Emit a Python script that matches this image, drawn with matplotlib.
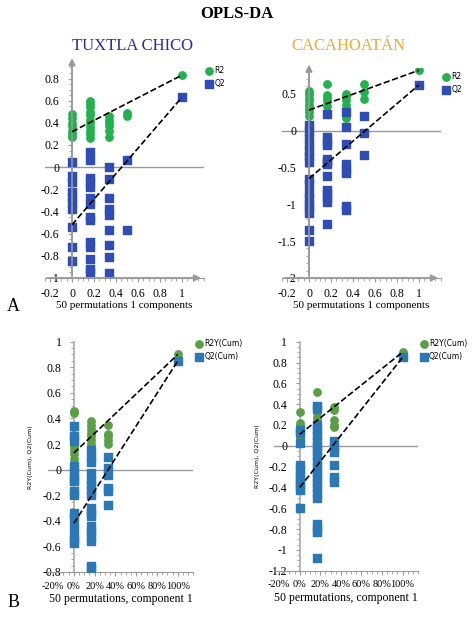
import matplotlib
matplotlib.use("Agg")
import matplotlib.pyplot as plt

plt.rcParams["font.family"] = ["Liberation Serif", "DejaVu Serif"]

# --- A: TUXTLA CHICO ---
tc_r2 = {0: [0.27, 0.30, 0.33, 0.37, 0.40, 0.44, 0.48],
         0.167: [0.26, 0.30, 0.33, 0.36, 0.40, 0.43, 0.47, 0.50, 0.54, 0.57, 0.60],
         0.333: [0.27, 0.33, 0.37, 0.40, 0.43, 0.46],
         0.5: [0.46, 0.49], 1: [0.83]}
tc_q2 = {0: [0.05, -0.08, -0.13, -0.22, -0.27, -0.32, -0.38, -0.54, -0.72, -0.85],
         0.167: [0.14, 0.06, -0.10, -0.13, -0.18, -0.28, -0.33, -0.45, -0.48, -0.68, -0.72, -0.83, -0.92, -0.95],
         0.333: [0.0, -0.11, -0.28, -0.38, -0.43, -0.57, -0.70, -0.81, -0.96],
         0.5: [0.06, -0.57], 1: [0.63]}
tc_lines = [(0.32, 0.83), (-0.52, 0.63)]

# --- A: CACAHOATAN ---
ca_r2 = {0: [0.20, 0.25, 0.30, 0.35, 0.40, 0.45, 0.50, 0.54],
         0.167: [0.33, 0.40, 0.45, 0.48, 0.63],
         0.333: [0.17, 0.35, 0.42, 0.47, 0.50],
         0.5: [0.43, 0.52, 0.63], 1: [0.82]}
ca_q2 = {0: [0.08, 0.0, -0.10, -0.20, -0.28, -0.35, -0.42, -0.65, -0.72, -0.85, -0.92, -1.0, -1.05, -1.12, -1.35, -1.50],
         0.167: [0.22, -0.08, -0.15, -0.20, -0.38, -0.42, -0.45, -0.62, -0.80, -0.85, -0.92, -0.97, -1.27],
         0.333: [0.25, 0.05, -0.18, -0.45, -0.52, -0.57, -1.02, -1.08],
         0.5: [0.20, -0.03, -0.33], 1: [0.62]}
ca_lines = [(0.28, 0.82), (-0.65, 0.62)]

# --- B: left ---
bl_r2 = {0: [0.08, 0.12, 0.15, 0.18, 0.20, 0.24, 0.27, 0.44, 0.46],
         0.167: [0.10, 0.14, 0.18, 0.20, 0.23, 0.26, 0.29, 0.32, 0.35, 0.38],
         0.333: [0.20, 0.23, 0.26, 0.28, 0.35], 1: [0.90]}
bl_q2 = {0: [0.34, 0.26, 0.22, 0.03, -0.03, -0.07, -0.09, -0.17, -0.20, -0.34, -0.38, -0.45, -0.52, -0.55, -0.57],
         0.167: [0.15, 0.10, 0.06, -0.03, -0.08, -0.12, -0.16, -0.20, -0.30, -0.34, -0.36, -0.44, -0.48, -0.52, -0.56, -0.75, -0.77],
         0.333: [0.10, 0.01, -0.04, -0.14, -0.17, -0.28], 1: [0.85]}
bl_lines = [(0.13, 0.90), (-0.42, 0.85)]

# --- B: right ---
br_r2 = {0: [0.08, 0.10, 0.20, 0.22, 0.32],
         0.167: [0.10, 0.15, 0.20, 0.25, 0.28, 0.32, 0.36, 0.38, 0.52],
         0.333: [0.18, 0.20, 0.25, 0.34, 0.37], 1: [0.90]}
br_q2 = {0: [0.15, 0.12, 0.03, -0.18, -0.22, -0.28, -0.32, -0.36, -0.40, -0.42, -0.60],
         0.167: [0.38, 0.35, 0.20, 0.15, 0.10, 0.05, 0.0, -0.05, -0.10, -0.15, -0.20, -0.25, -0.30,
                 -0.35, -0.40, -0.45, -0.50, -0.75, -0.80, -0.83, -1.08],
         0.333: [0.05, -0.02, -0.06, -0.18, -0.30, -0.35], 1: [0.85]}
br_lines = [(0.11, 0.90), (-0.40, 0.85)]


def flat(d):
    xs, ys = [], []
    for k, v in d.items():
        xs += [k] * len(v)
        ys += v
    return xs, ys


def panel(rect, r2, q2, lines, ylim, yticks, cols, labels, pct, arrows):
    ax = fig.add_axes(rect)
    ax.set_xlim(-0.25, 1.2 if not pct else 1.15)
    ax.set_ylim(*ylim)
    for s in ["top", "right"]:
        ax.spines[s].set_visible(False)
    ax.spines["left"].set_position(("data", 0))
    ax.spines["left"].set_color("#aaaaaa")
    ax.spines["left"].set_linewidth(1.2)
    ax.spines["bottom"].set_color("#999999")
    ax.axhline(0, color="#999999", lw=1, zorder=0)
    ax.set_yticks(yticks)
    ax.set_yticklabels([f"{t:g}" for t in yticks])
    ax.set_xticks([-0.2, 0, 0.2, 0.4, 0.6, 0.8, 1])
    if pct:
        ax.set_xticklabels(["-20%", "0%", "20%", "40%", "60%", "80%", "100%"])
    else:
        ax.set_xticklabels(["-0.2", "0", "0.2", "0.4", "0.6", "0.8", "1"])
    ax.minorticks_on()
    ax.tick_params(labelsize=8.5 if not pct else 7.5, length=3, color="#999999", pad=4)
    ax.tick_params(which="minor", length=2, color="#999999")
    ax.tick_params(axis="y", pad=6, labelsize=8.5)
    x, y = flat(r2)
    ax.scatter(x, y, s=28, c=cols[0], marker="o", zorder=3, label=labels[0])
    x, y = flat(q2)
    ax.scatter(x, y, s=28, c=cols[1], marker="s", zorder=3, label=labels[1])
    for y0, y1 in lines:
        ax.plot([0, 1], [y0, y1], "k--", lw=1.2, zorder=4)
    if arrows:
        ax.annotate("", xy=(0, ylim[1] + 0.03 * (ylim[1] - ylim[0])), xytext=(0, ylim[0]),
                    arrowprops=dict(arrowstyle="-|>", color="#999999", lw=1.2), annotation_clip=False)
        ax.annotate("", xy=(1.2, ylim[0]), xytext=(-0.25, ylim[0]),
                    arrowprops=dict(arrowstyle="-|>", color="#999999", lw=1.2), annotation_clip=False)
    ax.legend(loc="upper left", bbox_to_anchor=(0.98, 1.0 if arrows else 1.03),
              frameon=False, handletextpad=0.1, borderpad=0,
              labelspacing=0.6, handlelength=1.2, prop={"family": "DejaVu Sans", "size": 5.5})
    return ax


fig = plt.figure(figsize=(4.74, 6.19), dpi=100)
fig.text(0.5, 0.977, "OPLS-DA", ha="center", va="center", fontsize=12, weight="bold")

top_cols = ("#22b14c", "#2f4db5")
bot_cols = ("#5a9e45", "#2a78b5")

a1 = panel([0.094, 0.551, 0.336, 0.349], tc_r2, tc_q2, tc_lines, (-1, 0.95),
           [0.8, 0.6, 0.4, 0.2, 0, -0.2, -0.4, -0.6, -0.8, -1], top_cols, ("R2", "Q2"), False, True)
a2 = panel([0.594, 0.551, 0.336, 0.339], ca_r2, ca_q2, ca_lines, (-2, 0.85),
           [0.5, 0, -0.5, -1, -1.5, -2], top_cols, ("R2", "Q2"), False, True)
b1 = panel([0.101, 0.076, 0.307, 0.372], bl_r2, bl_q2, bl_lines, (-0.8, 1.0),
           [1, 0.8, 0.6, 0.4, 0.2, 0, -0.2, -0.4, -0.6, -0.8], bot_cols, ("R2Y(Cum)", "Q2(Cum)"), True, False)
b2 = panel([0.578, 0.078, 0.304, 0.370], br_r2, br_q2, br_lines, (-1.2, 1.0),
           [1, 0.8, 0.6, 0.4, 0.2, 0, -0.2, -0.4, -0.6, -0.8, -1, -1.2], bot_cols, ("R2Y(Cum)", "Q2(Cum)"), True, False)

fig.text(0.28, 0.925, "TUXTLA CHICO", ha="center", va="center", fontsize=12, color="#2b2ba3")
fig.text(0.735, 0.925, "CACAHOATÁN", ha="center", va="center", fontsize=12, color="#f0a830")
for ax in (a1, a2):
    ax.set_xlabel("50 permutations 1 components", fontsize=8, labelpad=1)
for ax in (b1, b2):
    ax.set_xlabel("50 permutations, component 1", fontsize=8.5, labelpad=2)
    ax.set_ylabel("R2Y(Cum), Q2(Cum)", fontsize=4.5, family="DejaVu Sans", labelpad=0)
    ax.yaxis.set_label_coords(-0.1, 0.5)
fig.text(0.015, 0.497, "A", fontsize=13)
fig.text(0.015, 0.02, "B", fontsize=13)

fig.savefig("out.png", dpi=100)
